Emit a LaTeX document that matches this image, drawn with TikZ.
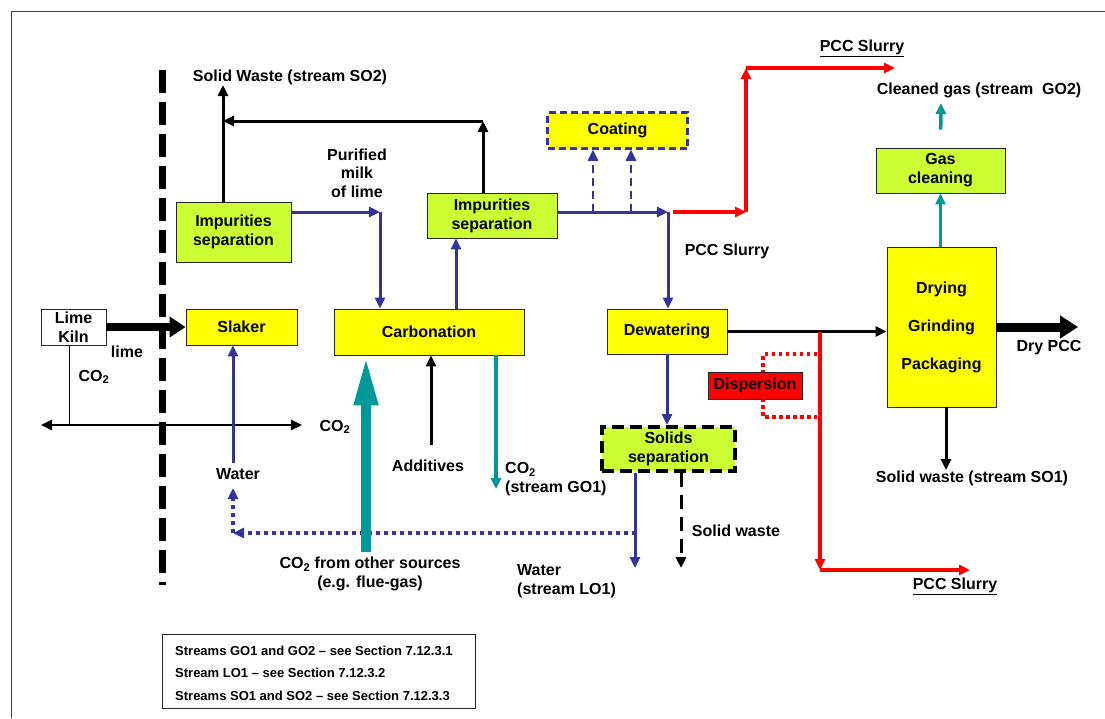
\documentclass[tikz,border=0pt]{standalone}
\usepackage{fontspec}
\setmainfont{Liberation Sans}
\usetikzlibrary{arrows.meta,calc}
\definecolor{pblue}{RGB}{51,51,153}
\definecolor{lgreen}{RGB}{204,255,51}
\definecolor{pyellow}{RGB}{255,255,0}
\definecolor{pteal}{RGB}{0,153,153}
\begin{document}
\begin{tikzpicture}[x=1pt,y=-1pt,
  font=\fontsize{16}{19}\selectfont\bfseries,
  box/.style={draw=black!85, line width=0.9pt, inner sep=0pt, align=center},
  ybox/.style={box, fill=pyellow},
  gbox/.style={box, fill=lgreen},
  arr/.style={-{Triangle[length=11pt,width=10pt]}},
  bl/.style={pblue, line width=3pt},
  bk/.style={black, line width=3pt},
  rd/.style={red, line width=4pt},
  tl/.style={pteal, line width=3.5pt},
  lbl/.style={inner sep=0pt, align=center},
  leg/.style={inner sep=0pt, anchor=west, font=\fontsize{13}{15}\selectfont\bfseries}
]
\useasboundingbox (0,0) rectangle (1105,718);
% frame
\draw[line width=1pt, black!75] (11,718) -- (11,11) -- (1105,11);
% boundary
\draw[line width=7pt, dash pattern=on 23pt off 9pt] (162,70) -- (162,585);

% boxes
\node[box, fill=white, minimum width=65, minimum height=36] (kiln) at (73.5,327) {Lime\\Kiln};
\node[ybox, minimum width=111, minimum height=36] (slaker) at (241.5,327) {Slaker};
\node[gbox, minimum width=115, minimum height=60] (imp1) at (233.5,232) {Impurities\\separation};
\node[ybox, minimum width=190, minimum height=46] (carb) at (429,332) {Carbonation};
\node[gbox, minimum width=130, minimum height=45] (imp2) at (492,215.5) {Impurities\\separation};
\node[ybox, minimum width=120, minimum height=45] (dew) at (667,331.5) {Dewatering};
\node[gbox, minimum width=129, minimum height=45] (gascl) at (940.5,170.5) {Gas\\cleaning};
\node[ybox, minimum width=109, minimum height=160, font=\fontsize{16}{38}\selectfont\bfseries] (dry) at (941.5,327) {Drying\\Grinding\\Packaging};

% red dotted bracket behind dispersion
\draw[red, line width=3.5pt, dash pattern=on 3.5pt off 3.5pt] (817,354) -- (763,354) -- (763,417) -- (817,417);
\node[box, fill=red, minimum width=94, minimum height=27] (disp) at (755,385.5) {Dispersion};

\node[gbox, draw=black, line width=4pt, dash pattern=on 12pt off 6pt, minimum width=133, minimum height=44] (solsep) at (668.5,449) {Solids\\separation};
\node[ybox, draw=pblue, line width=2.5pt, dash pattern=on 7pt off 4pt, minimum width=140, minimum height=36] (coat) at (617.5,130.5) {Coating};

% lime kiln connectors
\draw[line width=8pt, -{Triangle[length=16pt,width=20pt]}] (kiln.east) -- (slaker.west);
\coordinate (k1) at (69,425);
\draw[line width=1pt] (kiln.south -| k1) -- (k1);
\coordinate (dl) at (41,425);
\coordinate (dr) at (302,425);
\draw[line width=2.5pt, {Triangle[length=11pt,width=10pt]}-{Triangle[length=11pt,width=10pt]}] (dl) -- (dr);

% water to slaker
\coordinate (w0) at (233,463);
\draw[bl,arr] (w0) -- (w0 |- slaker.south);

% dotted water recycle
\coordinate (d0) at (636,533);
\coordinate (d1) at (233,533);
\coordinate (d2) at (233,488);
\draw[pblue, line width=4pt, dash pattern=on 4pt off 4pt, arr] (d0) -- (d1);
\draw[pblue, line width=4pt, dash pattern=on 4pt off 4pt, arr] (d1) -- (d2);

% solid waste SO2
\coordinate (sw2) at (223,85);
\draw[bk,arr] (imp1.north -| sw2) -- (sw2);
\coordinate (t1) at (483,121);
\draw[bk,arr] (imp2.north -| t1) -- (t1);
\draw[bk,arr] (t1) -- (t1 -| sw2);

% purified milk of lime
\coordinate (p1) at (380,212);
\draw[bl,arr] (imp1.east |- p1) -- (p1);
\draw[bl,arr] (p1) -- (p1 |- carb.north);

% carbonation to impurities 2
\coordinate (c2) at (456,300);
\draw[bl,arr] (carb.north -| c2) -- (c2 |- imp2.south);

% impurities 2 to junction
\coordinate (j) at (668,212);
\draw[bl,arr] (imp2.east |- j) -- (j);
\draw[bl,arr] (j) -- (j |- dew.north);
\coordinate (cd1) at (593,212);
\coordinate (cd2) at (631,212);
\draw[pblue, line width=2.5pt, dash pattern=on 8pt off 5pt, arr] (cd1) -- (cd1 |- coat.south);
\draw[pblue, line width=2.5pt, dash pattern=on 8pt off 5pt, arr] (cd2) -- (cd2 |- coat.south);

% red PCC slurry top
\coordinate (r0) at (673,212);
\coordinate (r1) at (746,212);
\coordinate (r2) at (746,68);
\coordinate (r3) at (895,68);
\draw[rd,arr] (r0) -- (r1);
\draw[rd,arr] (r1) -- (r2);
\draw[rd,arr] (r2) -- (r3);

% dewatering to drying
\draw[bk,arr] (dew.east) -- (dew.east -| dry.west);

% red PCC slurry bottom
\coordinate (rd0) at (820,332);
\coordinate (rd1) at (820,570);
\coordinate (rd2) at (970,570);
\draw[red, line width=3.5pt, arr] (rd0) -- (rd1);
\draw[red, line width=3.5pt, arr] (rd1) -- (rd2);

% dewatering to solids separation
\draw[bl,arr] (dew.south) -- (dew.south |- solsep.north);
\coordinate (lo) at (635,568);
\draw[bl,arr] (solsep.south -| lo) -- (lo);
\coordinate (sw) at (681,568);
\draw[black, line width=3pt, dash pattern=on 14pt off 8pt, arr] (solsep.south -| sw) -- (sw);

% carbonation inputs/outputs
\coordinate (tb) at (366,552);
\draw[pteal, line width=10pt, -{Triangle[length=50pt,width=22pt]}] (tb) -- (tb |- carb.south);
\coordinate (ad) at (431,445);
\draw[bk,arr] (ad) -- (ad |- carb.south);
\coordinate (tg) at (496,489);
\draw[tl,arr] (carb.south -| tg) -- (tg);

% drying outputs
\draw[tl,arr] (gascl.south |- dry.north) -- (gascl.south);
\coordinate (cg1) at (941,103);
\draw[tl,arr, shorten <=18pt] (gascl.north) -- (cg1);
\coordinate (dp) at (1078,327);
\draw[line width=9pt, -{Triangle[length=18pt,width=22pt]}] (dry.east) -- (dp);
\coordinate (so1) at (946,470);
\draw[bk,arr] (dry.south -| so1) -- (so1);

% labels
\node[lbl] (lsw2) at (290,77) {Solid Waste (stream SO2)};
\node[lbl, font=\fontsize{16}{18.5}\selectfont\bfseries] (lpur) at (357,173) {Purified\\milk\\of lime};
\node[lbl] (llime) at (127,352) {lime};
\node[lbl] (lco2a) at (94,377) {CO\textsubscript{2}};
\node[lbl] (lco2b) at (335,427) {CO\textsubscript{2}};
\node[lbl] (lwat) at (238,474) {Water};
\node[lbl] (ladd) at (428,466) {Additives};
\node[lbl, anchor=west, align=left] (lgo1) at (505,479) {CO\textsubscript{2}\\(stream GO1)};
\node[lbl] (lco2c) at (370,574) {CO\textsubscript{2} from other sources\\(e.g. flue-gas)};
\node[lbl, anchor=west, align=left] (llo1) at (517,581.5) {Water\\(stream LO1)};
\node[lbl] (lsw) at (736,531) {Solid waste};
\node[lbl] (lpcc) at (727,251) {PCC Slurry};
\node[lbl] (lpcct) at (862,48) {\underline{PCC Slurry}};
\node[lbl] (lpccb) at (955,586) {\underline{PCC Slurry}};
\node[lbl] (lcg) at (979,90) {Cleaned gas (stream\ \ GO2)};
\node[lbl] (ldry) at (1049,348) {Dry PCC};
\node[lbl] (lso1) at (972,478) {Solid waste (stream SO1)};

% legend
\node[draw=black!85, line width=0.9pt, minimum width=313, minimum height=74, inner sep=0pt] (legbox) at (318.5,671) {};
\node[leg] (lg1) at (175,651) {Streams GO1 and GO2 -- see Section 7.12.3.1};
\node[leg] (lg2) at (175,673) {Stream LO1 -- see Section 7.12.3.2};
\node[leg] (lg3) at (175,696) {Streams SO1 and SO2 -- see Section 7.12.3.3};
\end{tikzpicture}
\end{document}
